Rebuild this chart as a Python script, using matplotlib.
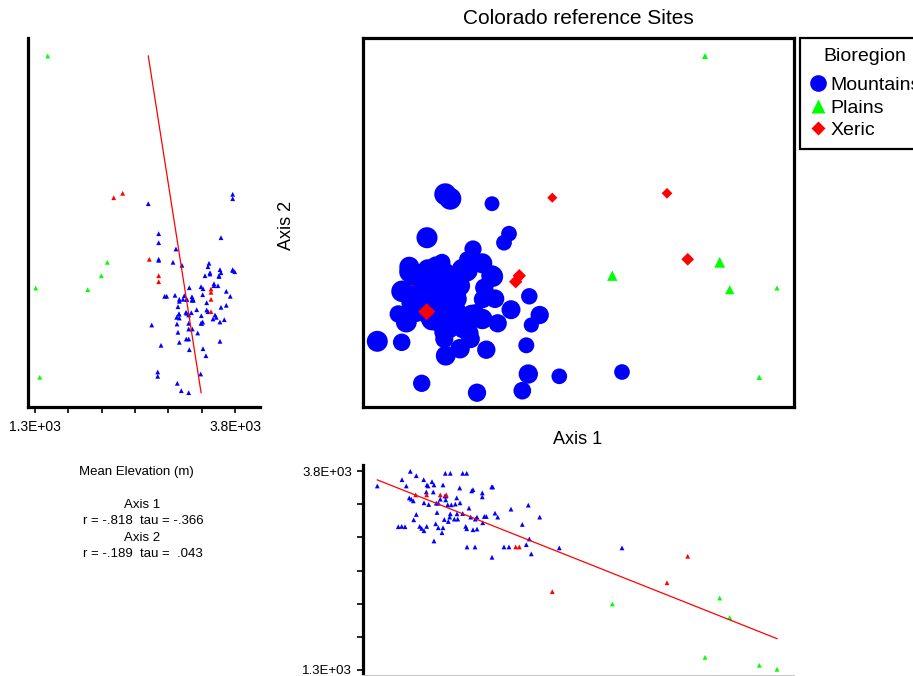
import matplotlib
matplotlib.use("Agg")
import matplotlib.pyplot as plt
from matplotlib.lines import Line2D
import numpy as np

plt.rcParams['font.family'] = ['Liberation Sans', 'DejaVu Sans']

# site scores on the two ordination axes (arbitrary units) and mean elevation (m)
mtn_ax1 = [82.3, 87.3, 99.7, 103.7, 47.3, 53.3, 39, 60.7, 69, 14.3,
           64, 128.7, 129.7, 96.7, 43.3, 80, 71, 65, 110, 108.7,
           70.3, 63.3, 119.3, 82.7, 119.3, 46.3, 82, 83, 93.7, 48.3,
           77.3, 50.3, 165.3, 97, 61, 73.3, 75.3, 92.3, 65.7, 84.7,
           88.3, 106, 148, 132, 99.7, 74, 94, 87.3, 53.3, 123.3,
           176.7, 134.7, 114, 121.3, 107.7, 86.7, 81.3, 112.3, 50.7, 94.7,
           91.3, 85.3, 119.7, 72.7, 159.3, 38.7, 35.3, 42, 56.7, 63.7,
           102.7, 58.7, 110, 103.7, 75.3, 80, 114, 61, 79, 166.3,
           71, 163.3, 104, 112, 141, 146, 196.3, 259, 168.3, 129]
mtn_ax2 = [212.7, 208.3, 137.3, 136.5, 135.3, 110.7, 115.7, 101.7, 87.3, 65.7,
           169.3, 131.3, 130.5, 121.3, 85, 134.3, 99.7, 137.3, 89.7, 92,
           123.3, 121.3, 88, 51.3, 143.7, 140.3, 134.3, 133, 95.3, 104.3,
           97, 131.3, 33, 58.3, 118.3, 112.3, 85, 83.7, 91.3, 120.3,
           83.7, 74, 97.3, 108.3, 78, 106.7, 110.3, 106.7, 94.3, 57.3,
           92, 83.7, 14.3, 119.3, 68, 78, 68, 93.7, 94.7, 107.7,
           107.7, 111.3, 107.7, 141.7, 16.3, 64.7, 93, 93, 107.7, 105.7,
           89, 23.7, 158, 83, 100.3, 74.7, 89.7, 111.7, 144.7, 110.7,
           110.7, 61.7, 147.7, 146.7, 164.3, 173.3, 30.7, 35, 82, 203.3]
mtn_elev = [3771, 3771, 3771, 3771, 3796, 3741, 3691, 3691, 3666, 3612,
            3625, 3600, 3600, 3587, 3612, 3625, 3625, 3612, 3566, 3550,
            3537, 3537, 3525, 3437, 3475, 3462, 3487, 3487, 3462, 3446,
            3446, 3425, 3371, 3400, 3400, 3396, 3396, 3384, 3379, 3375,
            3375, 3334, 3321, 3271, 3266, 3279, 3262, 3262, 3254, 3229,
            3221, 3221, 3221, 3229, 3221, 3221, 3191, 3196, 3187, 3196,
            3196, 3166, 3150, 3137, 3129, 3104, 3100, 3100, 3104, 3104,
            3104, 3079, 3062, 3075, 3087, 3087, 3071, 3050, 3025, 2946,
            2921, 2875, 2846, 2846, 2846, 2846, 2834, 2834, 2759, 2716]

xer_ax1 = [189.3, 304, 324.7, 156.3, 152.7, 52.7, 77.3, 83.3, 63.7]
xer_ax2 = [209.3, 213.7, 147.7, 131.3, 125.3, 118, 114.7, 107.7, 95.3]
xer_elev = [2284, 2396, 2729, 2846, 2846, 3500, 3500, 3500, 3500]
# these xeric sites come before the mountain sites in the data file
xer_drawn_first = [False, False, False, False, False, True, True, True, False]

pla_ax1 = [342, 249.3, 356.7, 366.7, 396.3, 414]
pla_ax2 = [351, 131.3, 144.7, 117.3, 29.7, 119]
pla_elev = [1459, 2129, 2204, 1959, 1359, 1309]

elev_ticks = [1300, 1716.7, 2133.3, 2550, 2966.7, 3383.3, 3800]
elev_labels = ['1.3E+03', '', '', '', '', '', '3.8E+03']

BLUE, GREEN, RED = '#0000ff', '#00ff00', '#ff0000'
W, H = 913, 676


def box(l, t, r, b):
    return [l / W, 1 - b / H, (r - l) / W, (b - t) / H]


def sym_size(elev, shrink=1.0):
    # symbol diameter grows with elevation (pixels -> points^2)
    d = (0.0068 * np.asarray(elev) - 3.6) * shrink * 0.72
    return d ** 2


fig = plt.figure(figsize=(W / 100, H / 100), dpi=100)

# main ordination
ax = fig.add_axes(box(363, 38, 794, 407))
ax.set_xlim(0, 431)
ax.set_ylim(0, 369)
ax.set_xticks([])
ax.set_yticks([])
for sp in ax.spines.values():
    sp.set_linewidth(2.3)

xa1, xa2, xe = np.array(xer_ax1), np.array(xer_ax2), np.array(xer_elev)
first = np.array(xer_drawn_first)
ax.scatter(xa1[first], xa2[first], s=sym_size(xe[first], 0.6), marker='D',
           c=RED, edgecolors='none', zorder=1)
ax.scatter(mtn_ax1, mtn_ax2, s=sym_size(mtn_elev), marker='o', c=BLUE,
           edgecolors='none', zorder=2)
ax.scatter(xa1[~first], xa2[~first], s=sym_size(xe[~first], 0.6), marker='D',
           c=RED, edgecolors='none', zorder=3)
ax.scatter(pla_ax1, pla_ax2, s=sym_size(pla_elev, 0.95), marker='^', c=GREEN,
           edgecolors='none', zorder=3)

fig.text(578 / W, 1 - 18 / H, 'Colorado reference Sites', ha='center', va='center', fontsize=15)
fig.text(578 / W, 1 - 440 / H, 'Axis 1', ha='center', va='center', fontsize=13)
fig.text(286 / W, 1 - 225 / H, 'Axis 2', ha='center', va='center', fontsize=13, rotation=90)

handles = [
    Line2D([], [], ls='none', marker='o', ms=12, mfc=BLUE, mec='none'),
    Line2D([], [], ls='none', marker='^', ms=10.5, mfc=GREEN, mec='none'),
    Line2D([], [], ls='none', marker='D', ms=7, mfc=RED, mec='none'),
]
# the legend box runs past the right edge of the figure, as in the original
leg = fig.legend(handles, ['Mountains', 'Plains', 'Xeric'], title='Bioregion',
                 loc='upper left', bbox_to_anchor=(800 / W, 1 - 38 / H),
                 frameon=True, fancybox=False, edgecolor='black', framealpha=1,
                 fontsize=14, title_fontsize=14, handlelength=0.9, handletextpad=0.15,
                 borderpad=0.5, labelspacing=0.25, borderaxespad=0)
leg.get_frame().set_linewidth(1.6)
leg._legend_box.sep = 8.5

all_ax1 = np.array(mtn_ax1 + xer_ax1 + pla_ax1)
all_ax2 = np.array(mtn_ax2 + xer_ax2 + pla_ax2)
all_elev = np.array(mtn_elev + xer_elev + pla_elev)

# joint plot: elevation vs axis 2
axl = fig.add_axes(box(28, 38, 260, 407))
axl.set_xlim(1212.5, 4112.5)
axl.set_ylim(0, 369)
for s in ['top', 'right']:
    axl.spines[s].set_visible(False)
axl.spines['left'].set_linewidth(2.3)
axl.spines['bottom'].set_linewidth(2.3)
axl.set_yticks([])
axl.set_xticks(elev_ticks)
axl.set_xticklabels(elev_labels)
axl.tick_params(axis='x', direction='out', length=4, width=1.2, labelsize=10, pad=5.5)
axl.scatter(mtn_elev, mtn_ax2, s=12, marker='^', c=BLUE, edgecolors='none')
axl.scatter(xer_elev, xer_ax2, s=12, marker='^', c=RED, edgecolors='none')
axl.scatter(pla_elev, pla_ax2, s=12, marker='^', c=GREEN, edgecolors='none')
fit2 = np.polyfit(all_ax2, all_elev, 1)
yy = np.array([all_ax2.min(), all_ax2.max()])
axl.plot(np.polyval(fit2, yy), yy, color=RED, lw=0.9)

# joint plot: axis 1 vs elevation
axb = fig.add_axes(box(363, 465, 794, 676))
axb.set_xlim(0, 431)
axb.set_ylim(1224.6, 3875.4)
for s in ['top', 'right']:
    axb.spines[s].set_visible(False)
axb.spines['left'].set_linewidth(2.3)
axb.spines['bottom'].set_linewidth(1.5)
axb.spines['bottom'].set_color('#c8c8c8')
axb.set_xticks([])
axb.set_yticks(elev_ticks)
axb.set_yticklabels(elev_labels)
axb.tick_params(axis='y', direction='out', length=4, width=1.2, labelsize=9.5, pad=4)
axb.scatter(mtn_ax1, mtn_elev, s=12, marker='^', c=BLUE, edgecolors='none')
axb.scatter(xer_ax1, xer_elev, s=12, marker='^', c=RED, edgecolors='none')
axb.scatter(pla_ax1, pla_elev, s=12, marker='^', c=GREEN, edgecolors='none')
fit1 = np.polyfit(all_ax1, all_elev, 1)
xx = np.array([all_ax1.min(), all_ax1.max()])
axb.plot(xx, np.polyval(fit1, xx), color=RED, lw=0.9)

# correlation summary
stats = [(136, 472, 'Mean Elevation (m)'), (142, 505, 'Axis 1'),
         (143, 521, 'r = -.818  tau = -.366'), (142, 538, 'Axis 2'),
         (143, 554, 'r = -.189  tau =  .043')]
for xpix, ypix, txt in stats:
    fig.text(xpix / W, 1 - ypix / H, txt, ha='center', va='center', fontsize=9.5)

fig.savefig('out.png', dpi=100)
